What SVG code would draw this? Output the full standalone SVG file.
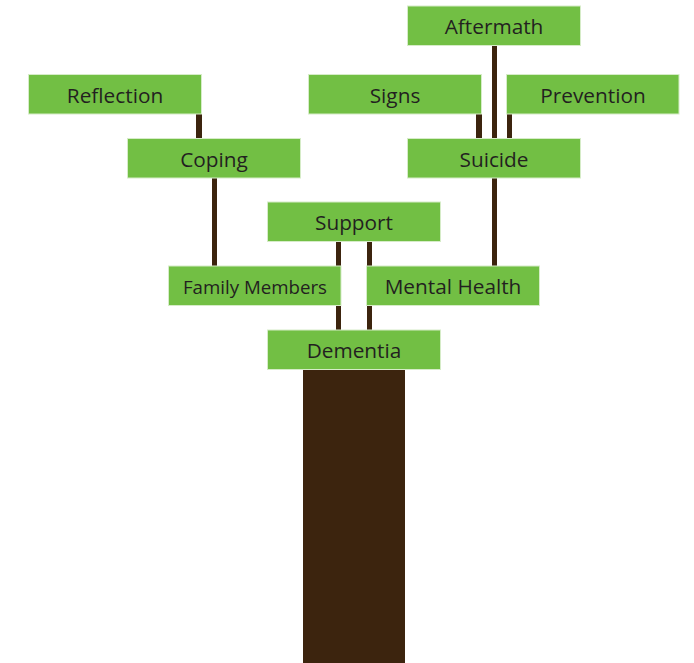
<svg xmlns="http://www.w3.org/2000/svg" width="694" height="663" viewBox="0 0 694 663">
<style>
.box{fill:#72BF44;stroke:#d6ecc8;stroke-width:1}
.lbl{font-family:"Open Sans","Liberation Sans",sans-serif;font-size:20.8px;fill:#231F20;text-anchor:middle}
.br{fill:#3C240E}
</style>
<rect width="694" height="663" fill="#ffffff"/>
<g id="connectors">
<rect class="br" x="303" y="369" width="102" height="294"/>
<rect class="br" x="336" y="241" width="5" height="90"/>
<rect class="br" x="367" y="241" width="5" height="90"/>
<rect class="br" x="212" y="178" width="5" height="89"/>
<rect class="br" x="492" y="178" width="5" height="89"/>
<rect class="br" x="196" y="114" width="6" height="25"/>
<rect class="br" x="476" y="114" width="6" height="25"/>
<rect class="br" x="507" y="114" width="5" height="25"/>
<rect class="br" x="492" y="45" width="5" height="94"/>
</g>
<g id="aftermath"><rect class="box" x="407.5" y="6" width="173" height="39.5"/><text class="lbl" x="494" y="34">Aftermath</text></g>
<g id="reflection"><rect class="box" x="28.5" y="74.5" width="173" height="39.5"/><text class="lbl" x="115" y="103">Reflection</text></g>
<g id="signs"><rect class="box" x="308.5" y="74.5" width="173" height="39.5"/><text class="lbl" x="395" y="103">Signs</text></g>
<g id="prevention"><rect class="box" x="506.5" y="74.5" width="172.5" height="39.5"/><text class="lbl" x="593" y="103">Prevention</text></g>
<g id="coping"><rect class="box" x="127.5" y="138.5" width="173" height="39.5"/><text class="lbl" x="214" y="167">Coping</text></g>
<g id="suicide"><rect class="box" x="407.5" y="138.5" width="173" height="39.5"/><text class="lbl" x="494" y="167">Suicide</text></g>
<g id="support"><rect class="box" x="267.5" y="202" width="173" height="39.5"/><text class="lbl" x="354" y="230">Support</text></g>
<g id="family-members"><rect class="box" x="168.5" y="266" width="172.5" height="39.5"/><text class="lbl" x="255" y="294" style="font-size:18.7px">Family Members</text></g>
<g id="mental-health"><rect class="box" x="366.5" y="266" width="173" height="39.5"/><text class="lbl" x="453" y="294">Mental Health</text></g>
<g id="dementia"><rect class="box" x="267.5" y="330" width="173" height="39.5"/><text class="lbl" x="354" y="358">Dementia</text></g>
</svg>
